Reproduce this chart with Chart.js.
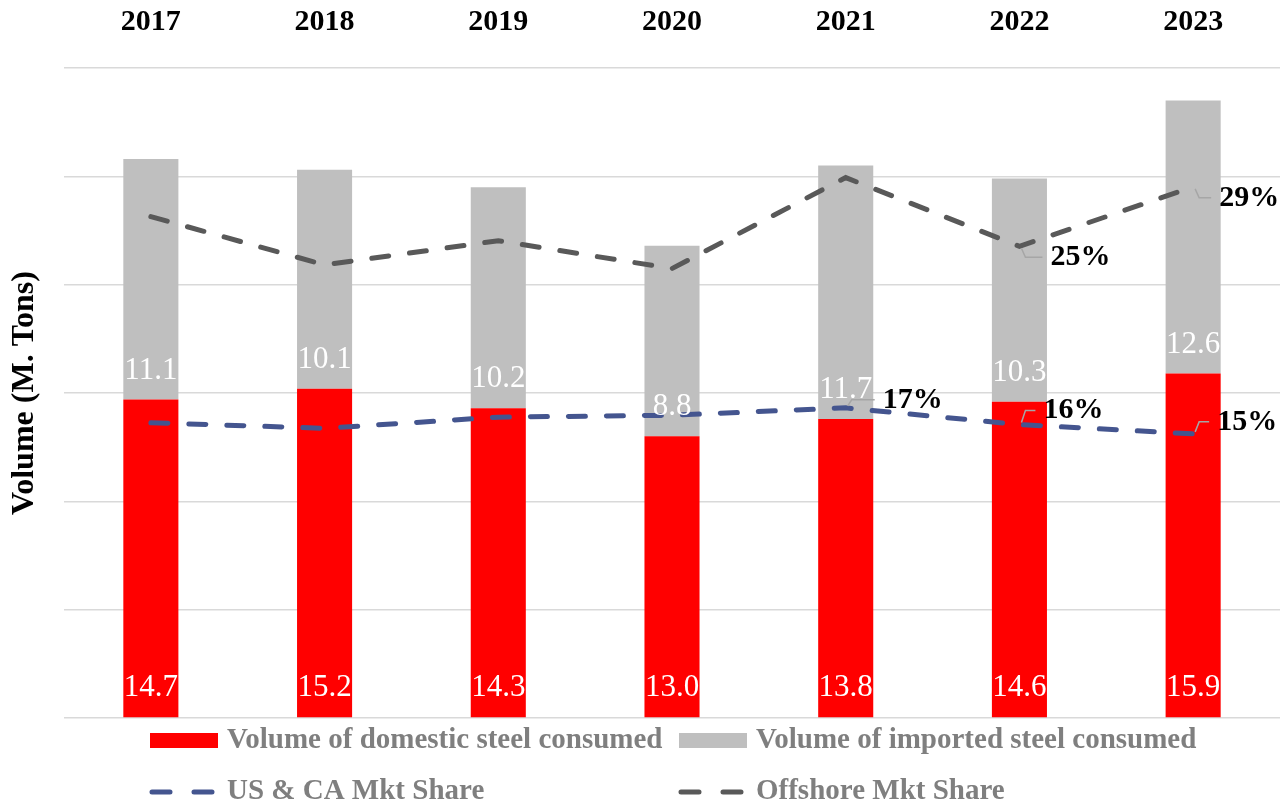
<!DOCTYPE html>
<html>
<head>
<meta charset="utf-8">
<script src="https://cdn.jsdelivr.net/npm/chart.js@4.4.1/dist/chart.umd.min.js"></script>
<style>
  html, body { margin: 0; padding: 0; background: #fff; }
  #wrap { width: 1280px; height: 802px; }
</style>
</head>
<body>
<div id="wrap"><canvas id="steel" width="1280" height="802"></canvas></div>
<script>
const years = ['2017', '2018', '2019', '2020', '2021', '2022', '2023'];
const domestic = [14.7, 15.2, 14.3, 13.0, 13.8, 14.6, 15.9];
const imported = [11.1, 10.1, 10.2, 8.8, 11.7, 10.3, 12.6];
const usCaShare = [15.9, 15.6, 16.2, 16.3, 16.7, 15.8, 15.3];
const offshoreShare = [27.0, 24.4, 25.7, 24.2, 29.1, 25.4, 28.6];

const FONT = "'Liberation Serif', 'DejaVu Serif', serif";

// which points of each share line get a % label, and where it sits (dx, dy from the point)
const shareLabels = {
    2: [[4, 37, -8], [5, 24, -14], [6, 24, -12]],
    3: [[5, 31, 11], [6, 26, 11]]
};

const labelPlugin = {
    id: 'labels',
    afterDatasetsDraw(chart) {
        const ctx = chart.ctx;
        ctx.save();
        // white values at the base of each bar segment
        ctx.font = '31px ' + FONT;
        ctx.fillStyle = '#ffffff';
        ctx.textAlign = 'center';
        ctx.textBaseline = 'middle';
        [0, 1].forEach(i => {
            const meta = chart.getDatasetMeta(i);
            meta.data.forEach((bar, j) => {
                const p = bar.getProps(['x', 'base'], true);
                ctx.fillText(chart.data.datasets[i].data[j].toFixed(1), p.x, p.base - 29);
            });
        });
        // share labels with leader lines
        ctx.font = 'bold 30px ' + FONT;
        ctx.textAlign = 'left';
        Object.keys(shareLabels).forEach(k => {
            const i = Number(k);
            const meta = chart.getDatasetMeta(i);
            shareLabels[k].forEach(([j, dx, dy]) => {
                const pt = meta.data[j];
                const tx = pt.x + dx, ty = pt.y + dy;
                ctx.strokeStyle = '#a6a6a6';
                ctx.lineWidth = 1.5;
                ctx.beginPath();
                ctx.moveTo(pt.x + 2, pt.y + (dy > 0 ? 2 : -2));
                ctx.lineTo(pt.x + 6, ty);
                ctx.lineTo(tx - 8, ty);
                ctx.stroke();
                ctx.fillStyle = '#000000';
                ctx.fillText(Math.round(chart.data.datasets[i].data[j]) + '%', tx, ty);
            });
        });
        ctx.restore();
    }
};

const legendPlugin = {
    id: 'customLegend',
    afterDraw(chart) {
        const ctx = chart.ctx;
        const slots = [[150, 748], [679, 748], [150, 799], [679, 799]];
        ctx.save();
        ctx.font = 'bold 29px ' + FONT;
        ctx.textBaseline = 'alphabetic';
        ctx.textAlign = 'left';
        chart.data.datasets.forEach((ds, i) => {
            const [x, y] = slots[i];
            if (ds.type === 'line') {
                ctx.strokeStyle = ds.borderColor;
                ctx.lineWidth = ds.borderWidth;
                ctx.lineCap = 'round';
                ctx.beginPath();
                ctx.moveTo(x + 2, y - 7); ctx.lineTo(x + 20, y - 7);
                ctx.moveTo(x + 44, y - 7); ctx.lineTo(x + 62, y - 7);
                ctx.stroke();
            } else {
                ctx.fillStyle = ds.backgroundColor;
                ctx.fillRect(x, y - 15, 68, 15);
            }
            ctx.fillStyle = '#7f7f7f';
            ctx.fillText(ds.label, x + 77, y);
        });
        ctx.restore();
    }
};

new Chart(document.getElementById('steel'), {
    data: {
        labels: years,
        datasets: [
            {
                type: 'bar',
                label: 'Volume of domestic steel consumed',
                data: domestic,
                backgroundColor: '#ff0000',
                stack: 'vol',
                yAxisID: 'y',
                order: 2
            },
            {
                type: 'bar',
                label: 'Volume of imported steel consumed',
                data: imported,
                backgroundColor: '#bfbfbf',
                stack: 'vol',
                yAxisID: 'y',
                order: 2
            },
            {
                type: 'line',
                label: 'US & CA Mkt Share',
                data: usCaShare,
                borderColor: '#44558f',
                borderWidth: 5,
                borderDash: [17, 21],
                borderCapStyle: 'round',
                pointRadius: 0,
                tension: 0,
                fill: false,
                yAxisID: 'y1',
                order: 1
            },
            {
                type: 'line',
                label: 'Offshore Mkt Share',
                data: offshoreShare,
                borderColor: '#595959',
                borderWidth: 5,
                borderDash: [17, 21],
                borderCapStyle: 'round',
                pointRadius: 0,
                tension: 0,
                fill: false,
                yAxisID: 'y1',
                order: 1
            }
        ]
    },
    options: {
        responsive: false,
        animation: false,
        layout: { padding: { bottom: 84, right: 0 } },
        datasets: {
            bar: { categoryPercentage: 1, barPercentage: 0.317 }
        },
        plugins: {
            legend: { display: false },
            tooltip: { enabled: false }
        },
        scales: {
            x: {
                position: 'top',
                stacked: true,
                grid: { display: false, drawTicks: false },
                border: { display: false },
                ticks: {
                    color: '#000000',
                    font: { family: FONT, size: 30, weight: 'bold' },
                    padding: 28
                },
                afterFit: s => { s.height = 68; }
            },
            y: {
                stacked: true,
                min: 0,
                max: 30,
                ticks: { display: false, stepSize: 5 },
                grid: { color: '#d9d9d9', lineWidth: 1.5, drawTicks: false },
                border: { display: false },
                title: {
                    display: true,
                    text: 'Volume (M. Tons)',
                    color: '#000000',
                    font: { family: FONT, size: 32, weight: 'bold' },
                    padding: { top: 6, bottom: 4 }
                },
                afterFit: s => { s.width = 64; }
            },
            y1: {
                display: false,
                min: 0,
                max: 35
            }
        }
    },
    plugins: [labelPlugin, legendPlugin]
});
</script>
</body>
</html>
